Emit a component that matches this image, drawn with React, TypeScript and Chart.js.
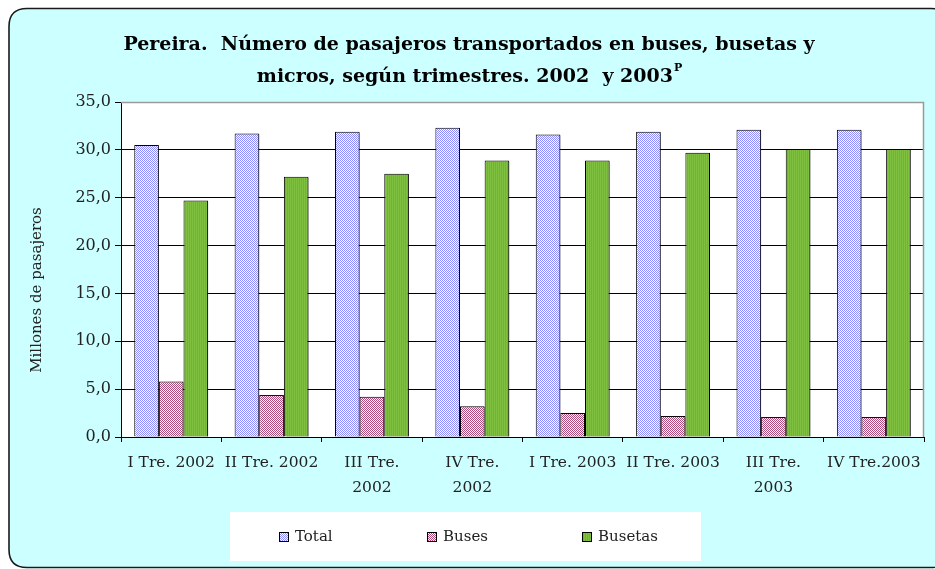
import React, { useEffect, useRef } from 'react';
import { Chart, registerables } from 'chart.js';

Chart.register(...registerables);

const categories: string[][] = [
  ['I Tre. 2002'],
  ['II Tre. 2002'],
  ['III Tre.', '2002'],
  ['IV Tre.', '2002'],
  ['I Tre. 2003'],
  ['II Tre. 2003'],
  ['III Tre.', '2003'],
  ['IV Tre.2003'],
];
const seriesNames = ['Total', 'Buses', 'Busetas'];
const totalValues = [30.5, 31.7, 31.9, 32.3, 31.6, 31.9, 32.1, 32.1];
const busesValues = [5.8, 4.4, 4.2, 3.2, 2.5, 2.2, 2.1, 2.1];
const busetasValues = [24.7, 27.2, 27.5, 28.9, 28.9, 29.7, 30.1, 30.1];
const yMin = 0;
const yMax = 35;
const yStep = 5;
const titleLine1 = 'Pereira.  Número de pasajeros transportados en buses, busetas y';
const titleLine2 = 'micros, según trimestres. 2002  y 2003';
const titleSup = 'P';
const yAxisTitle = 'Millones de pasajeros';

const SERIF = '"DejaVu Serif", "Liberation Serif", serif';

function makePattern(ctx: CanvasRenderingContext2D, a: string, b: string, kind: string) {
  const c = document.createElement('canvas');
  c.width = 2;
  c.height = 2;
  const g = c.getContext('2d')!;
  if (kind === 'checker') {
    g.fillStyle = b;
    g.fillRect(0, 0, 2, 2);
    g.fillStyle = a;
    g.fillRect(0, 0, 1, 1);
    g.fillRect(1, 1, 1, 1);
  } else {
    g.fillStyle = a;
    g.fillRect(0, 0, 2, 2);
    g.fillStyle = b;
    g.fillRect(1, 0, 1, 2);
  }
  return ctx.createPattern(c, 'repeat')!;
}

function roundRect(ctx: CanvasRenderingContext2D, x: number, y: number, w: number, h: number, r: number) {
  ctx.beginPath();
  ctx.moveTo(x + r, y);
  ctx.lineTo(x + w - r, y);
  ctx.quadraticCurveTo(x + w, y, x + w, y + r);
  ctx.lineTo(x + w, y + h - r);
  ctx.quadraticCurveTo(x + w, y + h, x + w - r, y + h);
  ctx.lineTo(x + r, y + h);
  ctx.quadraticCurveTo(x, y + h, x, y + h - r);
  ctx.lineTo(x, y + r);
  ctx.quadraticCurveTo(x, y, x + r, y);
  ctx.closePath();
}

export default function App() {
  const canvasRef = useRef<HTMLCanvasElement | null>(null);

  useEffect(() => {
    const canvas = canvasRef.current!;
    const ctx0 = canvas.getContext('2d')!;
    const patTotal = makePattern(ctx0, '#8c8cff', '#ffffff', 'checker');
    const patBuses = makePattern(ctx0, '#b04a7c', '#ffffff', 'checker');
    const patBusetas = makePattern(ctx0, '#80c040', '#74b236', 'stripe');
    const fills = [patTotal, patBuses, patBusetas];

    const decor = {
      id: 'decor',
      beforeDraw(chart: any) {
        const ctx = chart.ctx as CanvasRenderingContext2D;
        const a = chart.chartArea;
        ctx.save();
        ctx.fillStyle = '#ffffff';
        ctx.fillRect(0, 0, chart.width, chart.height);
        roundRect(ctx, 9, 8.5, 940, 559, 18);
        ctx.fillStyle = '#ccffff';
        ctx.fill();
        ctx.lineWidth = 1.6;
        ctx.strokeStyle = '#1a1a1a';
        ctx.stroke();
        ctx.fillStyle = '#ffffff';
        ctx.fillRect(a.left, a.top, a.right - a.left, a.bottom - a.top);
        ctx.restore();
      },
      beforeDatasetsDraw(chart: any) {
        const ctx = chart.ctx as CanvasRenderingContext2D;
        ctx.save();
        ctx.shadowColor = 'rgba(0,0,0,0.35)';
        ctx.shadowOffsetX = 2;
        ctx.shadowOffsetY = 1;
        ctx.shadowBlur = 0;
      },
      afterDatasetsDraw(chart: any) {
        chart.ctx.restore();
      },
      afterDraw(chart: any) {
        const ctx = chart.ctx as CanvasRenderingContext2D;
        const a = chart.chartArea;
        ctx.save();
        // plot border top/right
        ctx.strokeStyle = '#9a9a9a';
        ctx.lineWidth = 1.5;
        ctx.beginPath();
        ctx.moveTo(a.left, a.top + 0.5);
        ctx.lineTo(a.right - 0.5, a.top + 0.5);
        ctx.lineTo(a.right - 0.5, a.bottom);
        ctx.stroke();

        // title
        ctx.fillStyle = '#000';
        ctx.textBaseline = 'middle';
        ctx.textAlign = 'center';
        ctx.font = 'bold 19px ' + SERIF;
        const cx = 469;
        ctx.fillText(titleLine1, cx, 45);
        const w2 = ctx.measureText(titleLine2).width;
        ctx.font = 'bold 11px ' + SERIF;
        const ws = ctx.measureText(titleSup).width;
        const startX = cx - (w2 + ws) / 2;
        ctx.textAlign = 'left';
        ctx.font = 'bold 19px ' + SERIF;
        ctx.fillText(titleLine2, startX, 77);
        ctx.font = 'bold 11px ' + SERIF;
        ctx.fillText(titleSup, startX + w2 + 1, 68);

        // y axis title
        ctx.save();
        ctx.translate(37, 290);
        ctx.rotate(-Math.PI / 2);
        ctx.textAlign = 'center';
        ctx.font = '15px ' + SERIF;
        ctx.fillStyle = '#222';
        ctx.fillText(yAxisTitle, 0, 0);
        ctx.restore();

        // legend
        ctx.fillStyle = '#ffffff';
        ctx.fillRect(230, 512, 471, 49);
        const lx = [279, 427, 582];
        ctx.font = '15px ' + SERIF;
        ctx.textAlign = 'left';
        seriesNames.forEach((name, i) => {
          ctx.fillStyle = fills[i];
          ctx.fillRect(lx[i], 532, 9, 9);
          ctx.strokeStyle = '#000';
          ctx.lineWidth = 1;
          ctx.strokeRect(lx[i] + 0.5, 532.5, 9, 9);
          ctx.fillStyle = '#222';
          ctx.fillText(name, lx[i] + 16, 537.5);
        });
        ctx.restore();
      },
    };

    const chart = new Chart(canvas, {
      type: 'bar',
      data: {
        labels: categories,
        datasets: [
          { label: seriesNames[0], data: totalValues, backgroundColor: patTotal, borderColor: '#000', borderWidth: 1 },
          { label: seriesNames[1], data: busesValues, backgroundColor: patBuses, borderColor: '#000', borderWidth: 1 },
          { label: seriesNames[2], data: busetasValues, backgroundColor: patBusetas, borderColor: '#000', borderWidth: 1 },
        ],
      },
      options: {
        responsive: false,
        animation: false,
        devicePixelRatio: 1,
        layout: { padding: { left: 0, top: 102, right: 11, bottom: 0 } },
        datasets: { bar: { categoryPercentage: 0.736, barPercentage: 1 } },
        plugins: { legend: { display: false }, title: { display: false }, tooltip: { enabled: false } },
        scales: {
          x: {
            offset: true,
            afterFit(scale: any) { scale.height = 132; },
            grid: { display: true, drawOnChartArea: false, drawTicks: true, tickLength: 5, color: '#000', offset: true },
            border: { display: true, color: '#000', width: 1 },
            ticks: {
              color: '#222',
              font: { family: SERIF, size: 15.5, lineHeight: 1.6 },
              padding: 9,
              maxRotation: 0,
              autoSkip: false,
            },
          },
          y: {
            min: yMin,
            max: yMax,
            afterFit(scale: any) { scale.width = 121; },
            grid: { color: '#000', lineWidth: 1, tickLength: 6, drawTicks: true },
            border: { display: true, color: '#000', width: 1 },
            ticks: {
              stepSize: yStep,
              color: '#222',
              font: { family: SERIF, size: 16 },
              padding: 4,
              callback: (v: any) => Number(v).toFixed(1).replace('.', ','),
            },
          },
        },
      },
      plugins: [decor],
    });
    return () => chart.destroy();
  }, []);

  return (
    <div style={{ position: 'absolute', left: 0, top: 0, width: 935, height: 569 }}>
      <canvas ref={canvasRef} width={935} height={569} style={{ display: 'block', width: 935, height: 569 }} />
    </div>
  );
}
